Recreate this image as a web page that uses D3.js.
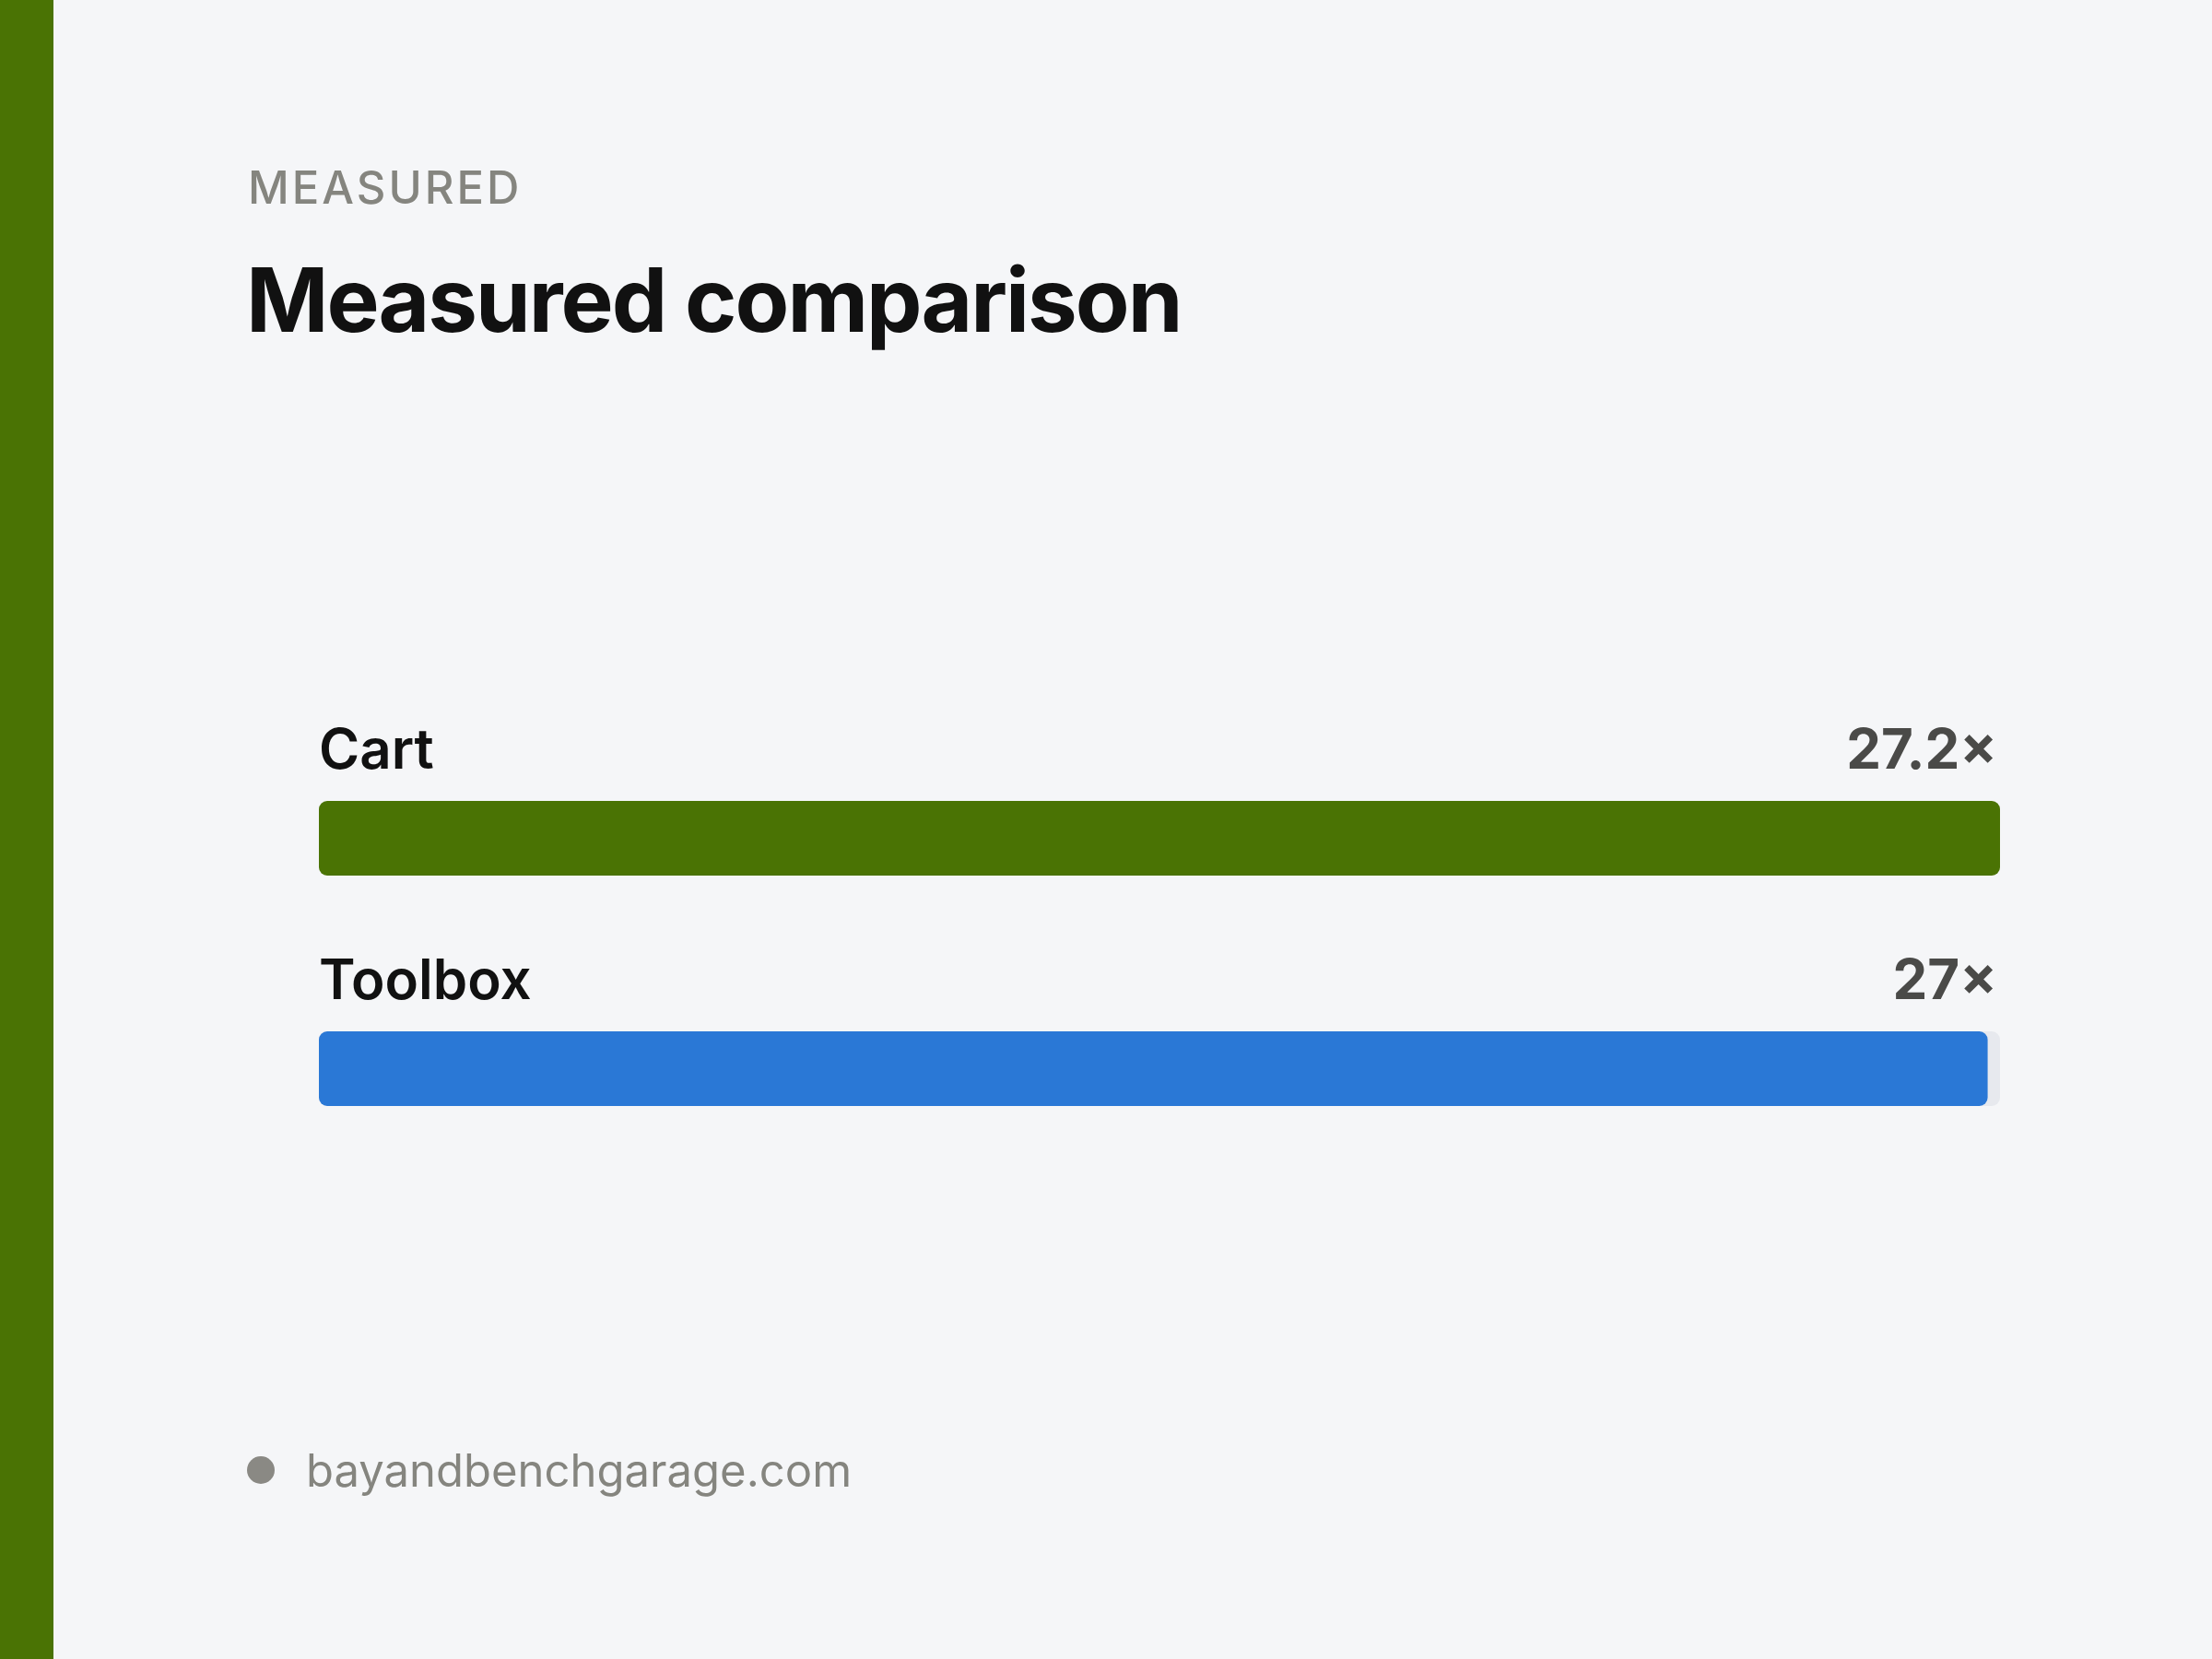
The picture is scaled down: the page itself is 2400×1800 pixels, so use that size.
<!DOCTYPE html>
<html>
<head>
<meta charset="utf-8">
<script src="https://cdn.jsdelivr.net/npm/d3@7"></script>
<style>
  body { margin: 0; background: #f5f6f8; }
  svg { display: block; font-family: Inter, "Noto Sans", sans-serif; }
</style>
</head>
<body>
<div id="chart"></div>
<script>
const categories = ["Cart", "Toolbox"];
const values = [27.2, 27];
const valueLabels = ["27.2×", "27×"];
const colors = ["#4a7304", "#2a78d6"];

const W = 2400, H = 1800;
const svg = d3.select("#chart").append("svg").attr("width", W).attr("height", H);

svg.append("rect").attr("width", W).attr("height", H).attr("fill", "#f5f6f8");
svg.append("rect").attr("width", 58).attr("height", H).attr("fill", "#4a7304");

svg.append("text").attr("x", 269).attr("y", 221)
  .attr("font-size", 49).attr("font-weight", 500).attr("letter-spacing", 3)
  .attr("fill", "#85857f").text("MEASURED");

svg.append("text").attr("x", 267).attr("y", 360)
  .attr("font-size", 96).attr("font-weight", 700).attr("letter-spacing", -2)
  .attr("fill", "#111").text("Measured comparison");

const x = d3.scaleLinear().domain([0, d3.max(values)]).range([346, 2170]);
const rowY = d3.scaleBand().domain(categories).range([770, 1270]).paddingInner(0);
const barH = 81;

const rows = svg.selectAll("g.row").data(categories).enter().append("g")
  .attr("class", "row")
  .attr("transform", d => `translate(0,${rowY(d)})`);

rows.append("text").attr("x", 346).attr("y", 64)
  .attr("font-size", 60).attr("font-weight", 600).attr("fill", "#111")
  .text(d => d);

rows.append("text").attr("x", 2167).attr("y", 64).attr("text-anchor", "end")
  .attr("font-size", 60).attr("font-weight", 700).attr("fill", "#4a4a48")
  .text((d, i) => valueLabels[i]);

rows.append("rect").attr("x", x(0)).attr("y", 99)
  .attr("width", x.range()[1] - x(0)).attr("height", barH)
  .attr("rx", 9).attr("fill", "#e7e9ee");

rows.append("rect").attr("x", x(0)).attr("y", 99)
  .attr("width", (d, i) => x(values[i]) - x(0)).attr("height", barH)
  .attr("rx", 9).attr("fill", (d, i) => colors[i]);

svg.append("circle").attr("cx", 283).attr("cy", 1595).attr("r", 15).attr("fill", "#8a8984");
svg.append("text").attr("x", 332).attr("y", 1613)
  .attr("font-size", 49).attr("fill", "#85857f").text("bayandbenchgarage.com");
</script>
</body>
</html>
